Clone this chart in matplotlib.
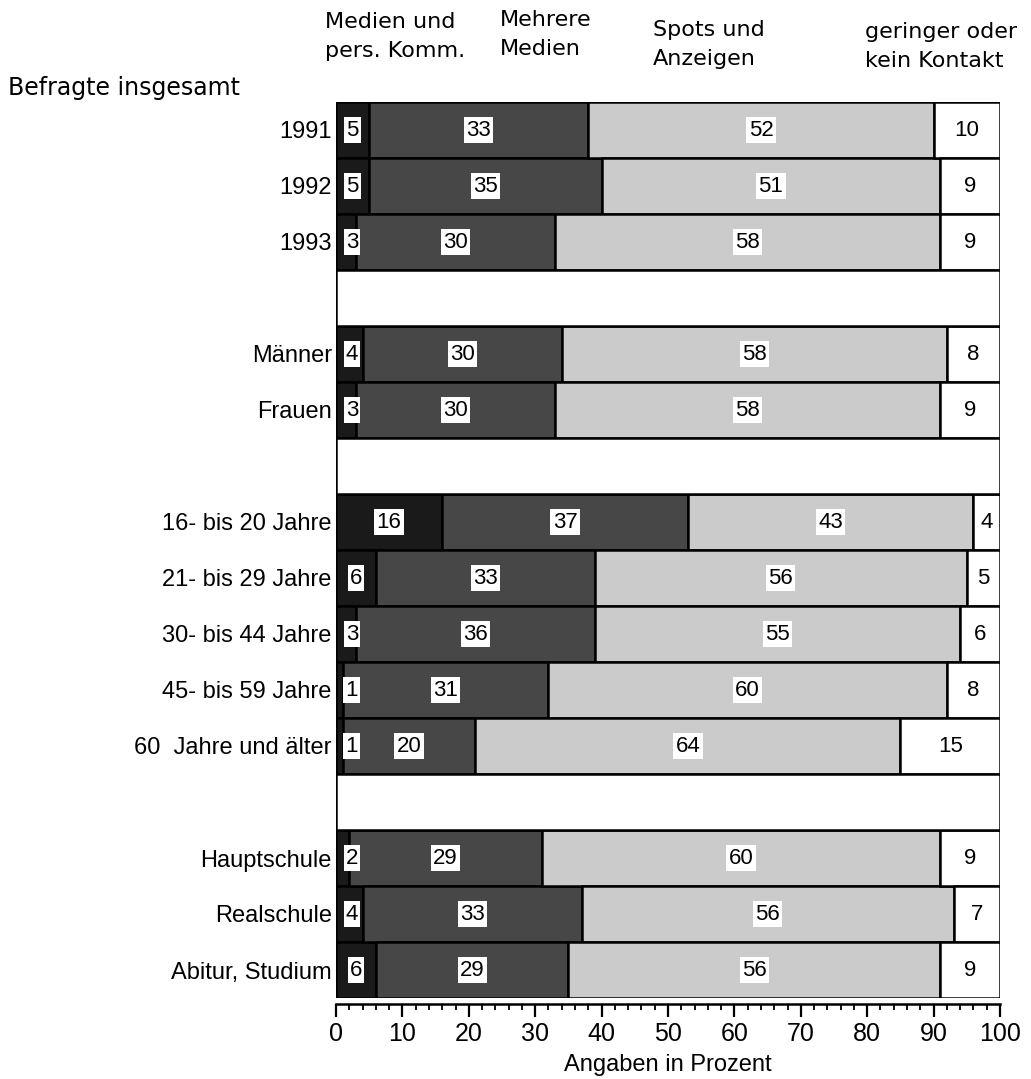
import matplotlib
matplotlib.use("Agg")
import matplotlib.pyplot as plt
from matplotlib.ticker import MultipleLocator

plt.rcParams['font.family'] = ['Liberation Sans', 'DejaVu Sans']

# Row labels (None = empty separator row)
rows = ["1991", "1992", "1993", None,
        "Männer", "Frauen", None,
        "16- bis 20 Jahre", "21- bis 29 Jahre", "30- bis 44 Jahre",
        "45- bis 59 Jahre", "60  Jahre und älter", None,
        "Hauptschule", "Realschule", "Abitur, Studium"]

medien_pers = [5, 5, 3, 4, 3, 16, 6, 3, 1, 1, 2, 4, 6]
mehrere = [33, 35, 30, 30, 30, 37, 33, 36, 31, 20, 29, 33, 29]
spots = [52, 51, 58, 58, 58, 43, 56, 55, 60, 64, 60, 56, 56]
gering = [10, 9, 9, 8, 9, 4, 5, 6, 8, 15, 9, 7, 9]

series = [medien_pers, mehrere, spots, gering]
headers = ["Medien und\npers. Komm.", "Mehrere\nMedien",
           "Spots und\nAnzeigen", "geringer oder\nkein Kontakt"]
colors = ["#1a1a1a", "#474747", "#cbcbcb", "#ffffff"]
label_box = [True, True, True, False]

W, H = 1031, 1079
fig = plt.figure(figsize=(W / 100, H / 100), dpi=100)
ax = fig.add_axes([336 / W, 1 - 998 / H, 664 / W, 896 / H])


def fx(px):
    return px / W


def fy(py):
    return 1 - py / H


n = len(rows)
bar_rows = [i for i, r in enumerate(rows) if r is not None]
gap_rows = [i for i, r in enumerate(rows) if r is None]

left = [0] * len(bar_rows)
for vals, col, boxed in zip(series, colors, label_box):
    ax.barh(bar_rows, vals, left=left, height=1.0, color=col,
            edgecolor="black", linewidth=1.8, zorder=2)
    for y, l, v in zip(bar_rows, left, vals):
        xc = l + v / 2
        if l == 0:
            xc = max(xc, 2.4)
        kw = {}
        if boxed:
            kw["bbox"] = dict(boxstyle="square,pad=0.1", fc="white", ec="none")
        ax.text(xc, y, str(v), ha="center", va="center", fontsize=16,
                color="black", zorder=4, **kw)
    left = [a + b for a, b in zip(left, vals)]

# empty separator rows across the full scale
ax.barh(gap_rows, [100] * len(gap_rows), height=1.0, color="white",
        edgecolor="black", linewidth=1.8, zorder=2)

ax.set_xlim(0, 100)
ax.set_ylim(n - 0.5, -0.5)
ax.set_yticks(bar_rows)
ax.set_yticklabels([rows[i] for i in bar_rows], fontsize=17)
ax.tick_params(axis="y", length=0, pad=3)

ax.xaxis.set_major_locator(MultipleLocator(10))
ax.xaxis.set_minor_locator(MultipleLocator(2))
ax.tick_params(axis="x", which="major", direction="out", length=9, width=1.6,
               labelsize=18, pad=4)
ax.tick_params(axis="x", which="minor", direction="out", length=4.5, width=1.3)
ax.spines["bottom"].set_position(("outward", 4))
ax.spines["bottom"].set_linewidth(1.8)
for s in ("top", "right", "left"):
    ax.spines[s].set_visible(False)
ax.set_xlabel("Angaben in Prozent", fontsize=17, labelpad=6)

# column headers above the bars
header_x = [325, 500, 653, 865]
header_top = [12, 10, 20, 22]
for hx, ht, txt in zip(header_x, header_top, headers):
    fig.text(fx(hx), fy(ht), txt, ha="left", va="top", fontsize=16,
             family=["DejaVu Sans"], linespacing=1.55)

fig.text(fx(8), fy(95), "Befragte insgesamt", ha="left", va="baseline",
         fontsize=17, family=["DejaVu Sans"])

fig.savefig("out.png", dpi=100)
